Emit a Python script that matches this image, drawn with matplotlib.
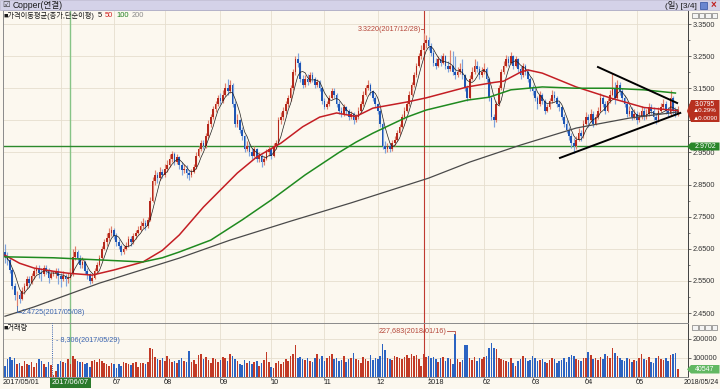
import matplotlib
matplotlib.use("Agg")
import matplotlib.pyplot as plt
from matplotlib.patches import Rectangle, Polygon
from matplotlib.text import Annotation
from matplotlib.transforms import blended_transform_factory
import numpy as np
import pandas as pd

plt.rcParams['font.family'] = ['Liberation Sans', 'Noto Sans CJK KR', 'DejaVu Sans']

# ---- data ----
dates = pd.bdate_range("2017-05-01", "2018-05-24")

opens = [
    2.640, 2.625, 2.615, 2.585, 2.535, 2.505, 2.505, 2.495, 2.520, 2.535, 2.555, 2.545, 2.565, 2.580, 2.590, 2.575, 2.570, 2.590, 2.580, 2.560, 2.570, 2.575, 2.580,
    2.565, 2.555, 2.565, 2.555, 2.560, 2.570, 2.625, 2.640, 2.620, 2.600, 2.610, 2.580, 2.570, 2.550, 2.560, 2.580, 2.600, 2.620, 2.650, 2.670, 2.685, 2.700,
    2.710, 2.690, 2.670, 2.660, 2.640, 2.650, 2.660, 2.680, 2.670, 2.690, 2.700, 2.710, 2.720, 2.730, 2.720, 2.740, 2.800, 2.860, 2.880, 2.870, 2.890,
    2.880, 2.900, 2.910, 2.930, 2.945, 2.920, 2.935, 2.910, 2.895, 2.900, 2.885, 2.880, 2.890, 2.905, 2.940, 2.960, 2.980, 2.970, 3.000, 3.040, 3.060, 3.085, 3.100,
    3.120, 3.110, 3.130, 3.150, 3.140, 3.160, 3.100, 3.040, 3.050, 3.020, 3.000, 2.960, 2.970, 2.950, 2.940, 2.960, 2.930, 2.940, 2.920, 2.930, 2.950,
    2.960, 2.940, 2.970, 2.980, 3.050, 3.060, 3.080, 3.100, 3.120, 3.150, 3.200, 3.240, 3.230, 3.180, 3.160, 3.180, 3.170, 3.190, 3.180, 3.160, 3.170, 3.150,
    3.110, 3.090, 3.100, 3.120, 3.140, 3.130, 3.100, 3.080, 3.070, 3.090, 3.080, 3.060, 3.070, 3.050, 3.060, 3.080, 3.100, 3.130, 3.150, 3.160, 3.140, 3.120,
    3.100, 3.080, 3.040, 2.970, 2.960, 2.970, 2.960, 2.980, 2.990, 3.010, 3.030, 3.060, 3.080, 3.100, 3.130, 3.160, 3.190, 3.220, 3.250, 3.270, 3.290,
    3.300, 3.280, 3.260, 3.230, 3.220, 3.240, 3.230, 3.250, 3.220, 3.210, 3.220, 3.200, 3.190, 3.200, 3.210, 3.190, 3.150, 3.120, 3.180, 3.200, 3.220, 3.210, 3.190,
    3.200, 3.210, 3.180, 3.120, 3.060, 3.050, 3.100, 3.150, 3.200, 3.220, 3.240, 3.230, 3.250, 3.220, 3.240, 3.210, 3.190, 3.220, 3.200, 3.180,
    3.150, 3.140, 3.120, 3.100, 3.130, 3.110, 3.080, 3.090, 3.110, 3.130, 3.120, 3.100, 3.090, 3.060, 3.040, 3.020, 3.000, 2.980, 2.970, 2.990, 3.010, 3.000,
    3.040, 3.060, 3.050, 3.070, 3.040, 3.060, 3.080, 3.120, 3.100, 3.080, 3.110, 3.130, 3.150, 3.120, 3.160, 3.140, 3.120, 3.100, 3.070, 3.080, 3.060,
    3.070, 3.050, 3.060, 3.080, 3.060, 3.070, 3.090, 3.080, 3.060, 3.050, 3.080, 3.090, 3.100, 3.080, 3.070, 3.120, 3.080, 3.0705,
]
highs = [
    2.665, 2.640, 2.620, 2.590, 2.545, 2.520, 2.515, 2.530, 2.545, 2.565, 2.565, 2.575, 2.590, 2.600, 2.600, 2.590, 2.600, 2.600, 2.590, 2.585, 2.580, 2.590, 2.590,
    2.575, 2.580, 2.570, 2.575, 2.590, 2.650, 2.660, 2.645, 2.630, 2.625, 2.615, 2.590, 2.575, 2.570, 2.590, 2.610, 2.630, 2.660, 2.680, 2.700, 2.715, 2.720,
    2.715, 2.700, 2.680, 2.665, 2.660, 2.670, 2.690, 2.690, 2.700, 2.710, 2.720, 2.735, 2.745, 2.740, 2.750, 2.810, 2.875, 2.895, 2.890, 2.905, 2.900,
    2.915, 2.925, 2.945, 2.955, 2.950, 2.945, 2.940, 2.920, 2.915, 2.910, 2.895, 2.900, 2.915, 2.950, 2.970, 2.990, 2.990, 3.010, 3.050, 3.070, 3.095, 3.110, 3.130,
    3.135, 3.145, 3.165, 3.180, 3.175, 3.165, 3.110, 3.070, 3.055, 3.030, 3.005, 2.985, 2.980, 2.965, 2.970, 2.965, 2.950, 2.945, 2.940, 2.960, 2.970,
    2.965, 2.980, 2.990, 3.060, 3.075, 3.090, 3.110, 3.130, 3.160, 3.210, 3.250, 3.260, 3.235, 3.190, 3.190, 3.195, 3.200, 3.200, 3.185, 3.180, 3.175, 3.155,
    3.120, 3.110, 3.130, 3.150, 3.150, 3.135, 3.110, 3.090, 3.100, 3.095, 3.085, 3.080, 3.075, 3.070, 3.090, 3.110, 3.140, 3.160, 3.175, 3.165, 3.145, 3.125,
    3.105, 3.085, 3.045, 2.985, 2.980, 2.980, 2.990, 3.000, 3.020, 3.040, 3.070, 3.090, 3.110, 3.140, 3.170, 3.200, 3.230, 3.260, 3.285, 3.322, 3.315,
    3.310, 3.290, 3.270, 3.245, 3.250, 3.255, 3.260, 3.255, 3.235, 3.270, 3.265, 3.250, 3.215, 3.230, 3.240, 3.195, 3.160, 3.190, 3.215, 3.240, 3.235, 3.220, 3.215,
    3.230, 3.215, 3.185, 3.125, 3.070, 3.110, 3.160, 3.210, 3.235, 3.255, 3.250, 3.263, 3.255, 3.250, 3.245, 3.220, 3.230, 3.225, 3.210, 3.185,
    3.160, 3.150, 3.125, 3.140, 3.135, 3.115, 3.100, 3.120, 3.145, 3.140, 3.125, 3.110, 3.095, 3.070, 3.050, 3.030, 3.010, 2.995, 3.000, 3.025, 3.020, 3.050,
    3.075, 3.070, 3.085, 3.080, 3.070, 3.090, 3.135, 3.130, 3.110, 3.120, 3.145, 3.197, 3.170, 3.175, 3.170, 3.150, 3.130, 3.110, 3.095, 3.090, 3.085,
    3.080, 3.075, 3.095, 3.090, 3.085, 3.105, 3.100, 3.090, 3.070, 3.090, 3.105, 3.115, 3.110, 3.090, 3.145, 3.125, 3.090, 3.095,
]
lows = [
    2.605, 2.600, 2.575, 2.525, 2.490, 2.4725, 2.480, 2.490, 2.510, 2.525, 2.530, 2.540, 2.555, 2.570, 2.560, 2.550, 2.565, 2.570, 2.545, 2.555, 2.565, 2.560, 2.540,
    2.530, 2.550, 2.535, 2.545, 2.555, 2.565, 2.615, 2.605, 2.590, 2.590, 2.570, 2.555, 2.540, 2.545, 2.555, 2.575, 2.595, 2.615, 2.645, 2.660, 2.675, 2.690,
    2.680, 2.660, 2.650, 2.630, 2.635, 2.645, 2.655, 2.660, 2.665, 2.680, 2.695, 2.705, 2.715, 2.710, 2.715, 2.735, 2.795, 2.850, 2.855, 2.865, 2.870,
    2.875, 2.890, 2.905, 2.920, 2.910, 2.915, 2.900, 2.880, 2.885, 2.870, 2.865, 2.875, 2.885, 2.900, 2.935, 2.955, 2.960, 2.965, 2.995, 3.030, 3.055, 3.075, 3.095,
    3.100, 3.105, 3.125, 3.130, 3.135, 3.090, 3.030, 3.030, 3.010, 2.990, 2.950, 2.955, 2.940, 2.930, 2.935, 2.920, 2.920, 2.905, 2.910, 2.925, 2.940,
    2.930, 2.935, 2.960, 2.975, 3.040, 3.050, 3.070, 3.090, 3.110, 3.145, 3.190, 3.215, 3.170, 3.150, 3.155, 3.160, 3.165, 3.170, 3.150, 3.155, 3.140, 3.100,
    3.085, 3.085, 3.095, 3.115, 3.120, 3.090, 3.070, 3.060, 3.065, 3.070, 3.050, 3.055, 3.040, 3.045, 3.055, 3.075, 3.095, 3.125, 3.145, 3.130, 3.110, 3.090,
    3.070, 3.030, 2.960, 2.948, 2.950, 2.950, 2.955, 2.970, 2.985, 3.005, 3.025, 3.055, 3.075, 3.095, 3.125, 3.155, 3.185, 3.215, 3.240, 3.265, 3.275,
    3.270, 3.250, 3.220, 3.210, 3.215, 3.220, 3.225, 3.210, 3.200, 3.205, 3.190, 3.180, 3.185, 3.195, 3.180, 3.140, 3.110, 3.115, 3.175, 3.195, 3.200, 3.180, 3.185,
    3.195, 3.170, 3.110, 3.050, 3.030, 3.045, 3.095, 3.145, 3.195, 3.215, 3.220, 3.225, 3.210, 3.215, 3.200, 3.180, 3.185, 3.190, 3.170, 3.140,
    3.130, 3.110, 3.085, 3.095, 3.100, 3.070, 3.075, 3.085, 3.105, 3.110, 3.090, 3.080, 3.050, 3.030, 3.010, 2.990, 2.965, 2.948, 2.960, 2.985, 2.985, 2.995,
    3.035, 3.030, 3.045, 3.030, 3.035, 3.055, 3.075, 3.090, 3.070, 3.075, 3.105, 3.125, 3.100, 3.115, 3.130, 3.110, 3.090, 3.060, 3.065, 3.050, 3.055,
    3.040, 3.045, 3.055, 3.050, 3.055, 3.065, 3.070, 3.050, 3.040, 3.045, 3.075, 3.085, 3.070, 3.060, 3.065, 3.070, 3.060, 3.065,
]
closes = [
    2.625, 2.615, 2.585, 2.535, 2.505, 2.505, 2.495, 2.520, 2.535, 2.555, 2.545, 2.565, 2.580, 2.590, 2.575, 2.570, 2.590, 2.580, 2.560, 2.570, 2.575, 2.580, 2.565,
    2.555, 2.565, 2.555, 2.560, 2.570, 2.625, 2.640, 2.620, 2.600, 2.610, 2.580, 2.570, 2.550, 2.560, 2.580, 2.600, 2.620, 2.650, 2.670, 2.685, 2.700, 2.710,
    2.690, 2.670, 2.660, 2.640, 2.650, 2.660, 2.680, 2.670, 2.690, 2.700, 2.710, 2.720, 2.730, 2.720, 2.740, 2.800, 2.860, 2.880, 2.870, 2.890, 2.880,
    2.900, 2.910, 2.930, 2.945, 2.920, 2.935, 2.910, 2.895, 2.900, 2.885, 2.880, 2.890, 2.905, 2.940, 2.960, 2.980, 2.970, 3.000, 3.040, 3.060, 3.085, 3.100, 3.120,
    3.110, 3.130, 3.150, 3.140, 3.160, 3.100, 3.040, 3.050, 3.020, 3.000, 2.960, 2.970, 2.950, 2.940, 2.960, 2.930, 2.940, 2.920, 2.930, 2.950, 2.960,
    2.940, 2.970, 2.980, 3.050, 3.060, 3.080, 3.100, 3.120, 3.150, 3.200, 3.240, 3.230, 3.180, 3.160, 3.180, 3.170, 3.190, 3.180, 3.160, 3.170, 3.150, 3.110,
    3.090, 3.100, 3.120, 3.140, 3.130, 3.100, 3.080, 3.070, 3.090, 3.080, 3.060, 3.070, 3.050, 3.060, 3.080, 3.100, 3.130, 3.150, 3.160, 3.140, 3.120, 3.100,
    3.080, 3.040, 2.970, 2.960, 2.970, 2.960, 2.980, 2.990, 3.010, 3.030, 3.060, 3.080, 3.100, 3.130, 3.160, 3.190, 3.220, 3.250, 3.270, 3.290, 3.300,
    3.280, 3.260, 3.230, 3.220, 3.240, 3.230, 3.250, 3.220, 3.210, 3.220, 3.200, 3.190, 3.200, 3.210, 3.190, 3.150, 3.120, 3.180, 3.200, 3.220, 3.210, 3.190, 3.200,
    3.210, 3.180, 3.120, 3.060, 3.050, 3.100, 3.150, 3.200, 3.220, 3.240, 3.230, 3.250, 3.220, 3.240, 3.210, 3.190, 3.220, 3.200, 3.180, 3.150,
    3.140, 3.120, 3.100, 3.130, 3.110, 3.080, 3.090, 3.110, 3.130, 3.120, 3.100, 3.090, 3.060, 3.040, 3.020, 3.000, 2.980, 2.970, 2.990, 3.010, 3.000, 3.040,
    3.060, 3.050, 3.070, 3.040, 3.060, 3.080, 3.120, 3.100, 3.080, 3.110, 3.130, 3.150, 3.120, 3.160, 3.140, 3.120, 3.100, 3.070, 3.080, 3.060, 3.070,
    3.050, 3.060, 3.080, 3.060, 3.070, 3.090, 3.080, 3.060, 3.050, 3.080, 3.090, 3.100, 3.080, 3.070, 3.120, 3.080, 3.0705, 3.0795,
]
# volume in thousands of contracts
volumes_k = [
    60, 95, 105, 90, 100, 70, 75, 60, 85, 70, 65, 80, 55, 75, 95, 85, 70, 50, 80, 65, 8.306, 30, 70,
    85, 80, 75, 95, 70, 110, 95, 85, 80, 80, 70, 75, 55, 85, 90, 80, 95, 85, 75, 70, 60, 75,
    70, 45, 70, 60, 80, 75, 70, 65, 75, 80, 55, 75, 75, 70, 80, 150, 145, 105, 95, 90, 100,
    85, 110, 95, 80, 85, 75, 90, 100, 85, 80, 135, 80, 90, 70, 115, 120, 95, 105, 90, 75, 100, 95, 80,
    90, 105, 100, 85, 120, 110, 95, 85, 70, 65, 90, 75, 85, 70, 80, 85, 60, 75, 90, 130, 80,
    55, 45, 75, 85, 70, 80, 95, 85, 110, 120, 170, 100, 105, 95, 90, 100, 85, 80, 100, 120, 95, 110,
    85, 100, 110, 120, 95, 100, 85, 90, 110, 80, 95, 100, 125, 95, 90, 75, 105, 95, 85, 115, 90, 100,
    95, 110, 175, 140, 100, 95, 90, 110, 105, 100, 95, 105, 115, 100, 120, 110, 115, 95, 60, 120, 105,
    110, 100, 105, 95, 80, 100, 105, 85, 100, 95, 70, 227.683, 95, 80, 90, 170, 170, 100, 90, 105, 85, 100, 95,
    105, 110, 150, 180, 155, 145, 100, 95, 90, 85, 80, 100, 75, 60, 85, 95, 110, 100, 85, 90,
    110, 100, 85, 90, 95, 80, 75, 90, 100, 95, 75, 85, 90, 100, 80, 105, 115, 110, 95, 90, 85, 100,
    100, 130, 115, 95, 100, 90, 105, 95, 120, 110, 100, 150, 125, 110, 100, 90, 85, 100, 95, 80, 90,
    85, 100, 120, 95, 90, 105, 80, 75, 100, 110, 95, 90, 100, 85, 115, 120, 125, 40.547,
]

# long moving averages (bar index, price)
ma50_idx = [0, 6, 12, 20, 26, 36, 45, 57, 65, 72, 82, 96, 104, 114, 123, 130, 137, 145, 152, 166, 174, 191, 202, 206, 213, 216, 222, 236, 250, 264, 278]
ma50_val = [2.630, 2.605, 2.590, 2.580, 2.574, 2.568, 2.584, 2.609, 2.645, 2.693, 2.780, 2.886, 2.936, 2.979, 3.030, 3.060, 3.073, 3.062, 3.088, 3.107, 3.120, 3.154, 3.168, 3.172, 3.200, 3.207, 3.197, 3.154, 3.120, 3.090, 3.080]
ma100_idx = [0, 20, 40, 57, 65, 72, 85, 98, 110, 124, 138, 145, 152, 166, 174, 191, 200, 209, 222, 236, 250, 264, 277]
ma100_val = [2.625, 2.622, 2.615, 2.609, 2.622, 2.640, 2.677, 2.740, 2.802, 2.880, 2.950, 2.982, 3.010, 3.060, 3.082, 3.113, 3.122, 3.145, 3.154, 3.150, 3.150, 3.145, 3.135]
ma200_idx = [0, 12, 39, 72, 93, 118, 143, 175, 192, 213, 236, 258, 278]
ma200_val = [2.440, 2.469, 2.543, 2.621, 2.677, 2.736, 2.793, 2.870, 2.920, 2.973, 3.026, 3.057, 3.076]

# hand-drawn triangle (bar index, price)
tri_upper = ([245, 277.7], [3.216, 3.104])
tri_lower = ([229.3, 279.0], [2.933, 3.073])

price_ticks = [2.45, 2.55, 2.65, 2.75, 2.85, 2.95, 3.05, 3.15, 3.25, 3.35]
vol_ticks = [100000, 200000]
support_price = 2.9702
marked_day = "2017-06-07"
high_day = "2017-12-28"
high_price = 3.3220
low_day = "2017-05-08"
low_price = 2.4725
vmin_day = "2017-05-29"
vmax_day = "2018-01-16"
last_close, last_pct, last_chg = 3.0795, 0.29, 0.0090
last_vol = 40547
ma_periods = [("5", "#111111"), ("50", "#d02020"), ("100", "#208020"), ("200", "#8a8a8a")]

# ---- colours ----
BG = "#fcf8ef"
GRID = "#e6dece"
UP, UP_WICK = "#b5281c", "#e0806c"
DN, DN_WICK = "#1d55b5", "#7fa3dc"
UP_VOL, DN_VOL = "#c23a26", "#2b63c2"
BLUE_TXT, RED_TXT = "#3a64b0", "#b5473a"

W, H = 720, 389


def fig_rect(left, top, right, bottom):
    return [left / W, 1 - bottom / H, (right - left) / W, (bottom - top) / H]


def fx(px):
    return px / W


def fy(py):
    return 1 - py / H


fig = plt.figure(figsize=(7.2, 3.89), dpi=100, facecolor=BG)

# title bar
fig.patches.append(Rectangle((0, fy(10)), 1, 10 / H, transform=fig.transFigure,
                             facecolor="#d4d2e8", edgecolor="#b8b6d0", lw=0.5))
fig.text(fx(2), fy(5), "☑", fontsize=6, va="center", color="#303030")
fig.text(fx(13), fy(5.2), "Copper(연결)", fontsize=6.2, va="center", color="#1a1a1a")
fig.text(fx(697), fy(5.2), "(일) [3/4]", fontsize=6, va="center", ha="right", color="#1a1a1a")
fig.patches.append(Rectangle((fx(700), fy(9)), 7 / W, 7 / H, transform=fig.transFigure,
                             facecolor="#6a86d0", edgecolor="#3050a0", lw=0.5))
fig.text(fx(713.5), fy(5.2), "×", fontsize=7, va="center", ha="center", color="#c02020", weight="bold")

ax = fig.add_axes(fig_rect(3, 10, 688, 323))
vax = fig.add_axes(fig_rect(3, 323, 688, 377))

n = len(closes)
x = np.arange(n)
o, h, l, c = (np.array(a) for a in (opens, highs, lows, closes))
up = c >= o

month_pos = [i for i in range(1, n) if dates[i].month != dates[i - 1].month]

for a in (ax, vax):
    a.set_facecolor(BG)
    a.set_xlim(-0.83, 282.2)
    a.set_xticks(month_pos)
    a.grid(True, color=GRID, lw=0.6)
    a.set_axisbelow(True)
    for s in a.spines.values():
        s.set_color("#8a8a8a")
        s.set_linewidth(0.7)
    a.spines["right"].set_color("#404040")
    a.yaxis.tick_right()
    a.tick_params(axis="y", labelsize=5.3, colors="#333333", length=2, width=0.5, pad=1.5)

ax.tick_params(axis="x", length=0, labelbottom=False)
vax.tick_params(axis="x", length=2, width=0.5, colors="#555555", labelbottom=False)

# ---- price panel ----
ax.set_ylim(2.4189, 3.3936)
ax.set_yticks(price_ticks)
# the 3.0500 label sits under the last-price box, as in the terminal
ax.set_yticklabels(["" if abs(t - last_close) < 0.04 else f"{t:.4f}" for t in price_ticks])
ax.set_yticks([t + 0.05 for t in price_ticks[:-1]], minor=True)
ax.tick_params(axis="y", which="minor", length=1.5, width=0.5, colors="#555555")

ax.axvline(dates.get_loc(pd.Timestamp(marked_day)), color="#86c486", lw=1.0, zorder=1)
hi_i = dates.get_loc(pd.Timestamp(high_day))
ax.axvline(hi_i, color="#c03a30", lw=0.8, zorder=1)
ax.axhline(support_price, color="#2c8a2c", lw=1.0, zorder=2)

ax.vlines(x[up], l[up], h[up], color=UP_WICK, lw=0.85, zorder=3)
ax.vlines(x[~up], l[~up], h[~up], color=DN_WICK, lw=0.85, zorder=3)
body = np.maximum(np.abs(c - o), 0.0015)
bottom = np.minimum(o, c)
ax.bar(x[up], body[up], bottom=bottom[up], width=0.7, color=UP, lw=0, zorder=4)
ax.bar(x[~up], body[~up], bottom=bottom[~up], width=0.7, color=DN, lw=0, zorder=4)

ma5 = pd.Series(closes).rolling(5, min_periods=1).mean()
ax.plot(x, ma5, color="#1e1e1e", lw=0.5, zorder=5)
ax.plot(ma50_idx, ma50_val, color="#c41e24", lw=1.1, zorder=5)
ax.plot(ma100_idx, ma100_val, color="#1f8a1f", lw=1.1, zorder=5)
ax.plot(ma200_idx, ma200_val, color="#4a4a4a", lw=0.9, zorder=5)

ax.plot(*tri_upper, color="black", lw=1.4, zorder=6)
ax.plot(*tri_lower, color="black", lw=1.4, zorder=6)

# high / low annotations
ax.text(hi_i - 1.2, 3.3344, f"{high_price:.4f}({high_day.replace('-', '/')})", fontsize=5.2,
        color=RED_TXT, ha="right", va="center", zorder=7)
ax.plot([hi_i - 1.1, hi_i], [3.3344, 3.3344], color=RED_TXT, lw=0.6, zorder=7)
lo_i = dates.get_loc(pd.Timestamp(low_day))
ax.plot([lo_i, lo_i, lo_i + 1.5], [low_price, 2.4531, 2.4531], color=BLUE_TXT, lw=0.6, zorder=7)
ax.text(lo_i + 1.9, 2.4531, f"{low_price:.4f}({low_day.replace('-', '/')})", fontsize=5.2,
        color=BLUE_TXT, ha="left", va="center", zorder=7)

# ---- volume panel ----
vol = np.array(volumes_k) * 1000
vax.set_ylim(0, 284210)
vax.set_yticks(vol_ticks)
vax.set_yticklabels([str(v) for v in vol_ticks])
vax.axvline(dates.get_loc(pd.Timestamp(marked_day)), color="#86c486", lw=1.0, zorder=1)
vax.axvline(hi_i, color="#c03a30", lw=0.8, zorder=1)
vax.bar(x, vol, width=0.66, color=np.where(up, UP_VOL, DN_VOL), lw=0, zorder=3)

vmin_i = dates.get_loc(pd.Timestamp(vmin_day))
vmin = vol[vmin_i]
vax.axvline(vmin_i - 0.5, color=BLUE_TXT, lw=0.7, ls=(0, (1, 1.2)), zorder=4)
vax.text(vmin_i + 1.2, 194700, f"- {int(vmin):,}({vmin_day.replace('-', '/')})", fontsize=5.2,
         color=BLUE_TXT, ha="left", va="center", zorder=7)
vmax_i = dates.get_loc(pd.Timestamp(vmax_day))
vmax = vol[vmax_i]
vax.text(vmax_i - 3.4, 242000, f"{int(vmax):,}({vmax_day.replace('-', '/')})", fontsize=5.2,
         color=RED_TXT, ha="right", va="center", zorder=7)
vax.plot([vmax_i - 3.2, vmax_i, vmax_i], [242000, 242000, vmax], color=RED_TXT, lw=0.6, zorder=7)

# panel headers: coloured MA periods chained after the label
anchor = fig.text(fx(4), fy(15.5), "■가격이동평균(종가,단순이평)", fontsize=5.2, va="center", color="#1a1a1a")
for txt, col in ma_periods:
    anchor = fig.add_artist(Annotation(
        txt, xy=(1, 0.5), xycoords=anchor, xytext=(2.2, 0), textcoords="offset points",
        fontsize=5.4, va="center", ha="left", color=col))
fig.text(fx(4), fy(328.5), "■거래량", fontsize=5.2, va="center", color="#1a1a1a")

# little window buttons at panel corners
for top in (12.5, 324.5):
    for k in range(4):
        fig.patches.append(Rectangle((fx(692 + k * 6.6), fy(top + 5.5)), 5.5 / W, 5.5 / H,
                                     transform=fig.transFigure, facecolor="#f4f4f4",
                                     edgecolor="#606060", lw=0.4))


# right-hand value boxes
def value_box(py_top, py_bot, color):
    mid = (py_top + py_bot) / 2
    pts = [(fx(687), fy(mid)), (fx(691), fy(py_top)), (fx(719.5), fy(py_top)),
           (fx(719.5), fy(py_bot)), (fx(691), fy(py_bot))]
    fig.patches.append(Polygon(pts, closed=True, transform=fig.transFigure,
                               facecolor=color, edgecolor="none", zorder=10))


value_box(100, 122, "#b7301f")
fig.text(fx(705), fy(104), f"{last_close:.4f}", fontsize=4.8, color="white", ha="center", va="center", zorder=11)
fig.text(fx(705), fy(111), f"▲{last_pct:.2f}%", fontsize=4.5, color="white", ha="center", va="center", zorder=11)
fig.text(fx(705), fy(118), f"▲{last_chg:.4f}", fontsize=4.5, color="white", ha="center", va="center", zorder=11)
value_box(142.5, 150.5, "#2a862a")
fig.text(fx(705), fy(146.5), f"{support_price:.4f}", fontsize=5.0, color="white", ha="center", va="center", zorder=11)
value_box(365, 373.5, "#62b862")
fig.text(fx(705), fy(369.2), f"{last_vol}", fontsize=5.0, color="white", ha="center", va="center", zorder=11)

# date labels
tr = blended_transform_factory(vax.transData, fig.transFigure)
fig.text(fx(3), fy(383), dates[0].strftime("%Y/%m/%d"), fontsize=5.3, va="center", color="#222222")
mk = dates.get_loc(pd.Timestamp(marked_day))
vax.text(mk, fy(383), pd.Timestamp(marked_day).strftime("%Y/%m/%d"), transform=tr, fontsize=5.3,
         ha="center", va="center", color="white",
         bbox=dict(boxstyle="square,pad=0.25", facecolor="#2b7a2b", edgecolor="none"))
for p in month_pos[1:]:
    d = dates[p]
    lab = str(d.year) if d.month == 1 else f"{d.month:02d}"
    vax.text(p - 0.4, fy(383), lab, transform=tr, fontsize=5.3, ha="left", va="center", color="#222222")
fig.text(fx(719), fy(383), dates[-1].strftime("%Y/%m/%d"), fontsize=5.0, va="center", ha="right", color="#222222")

fig.savefig("out.png", dpi=100, facecolor=BG)
